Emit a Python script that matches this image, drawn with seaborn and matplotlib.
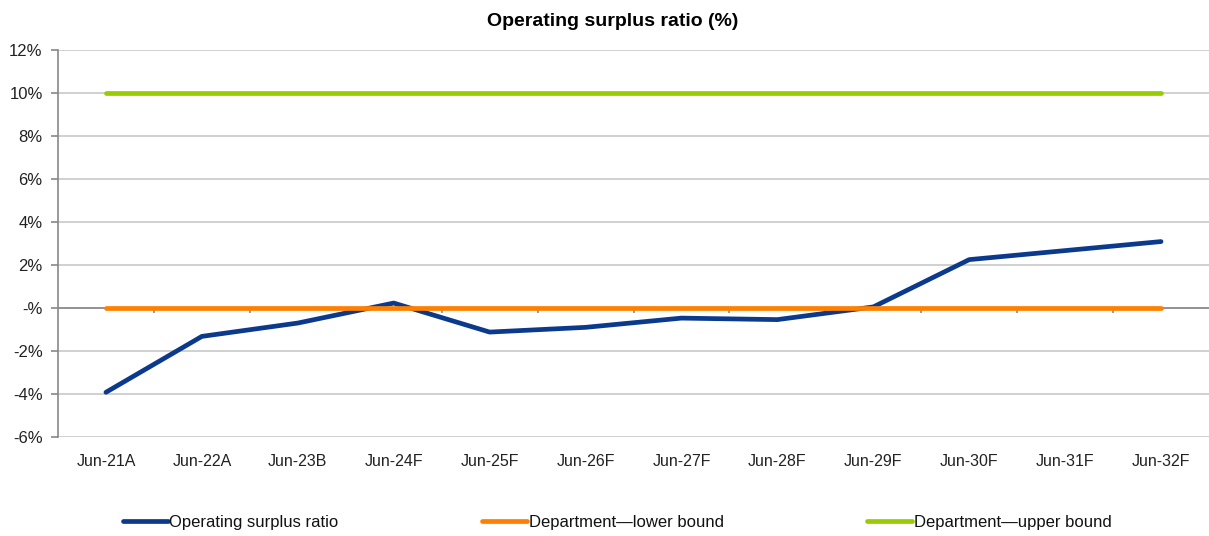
import numpy as np
import pandas as pd
import matplotlib
matplotlib.use("Agg")
import matplotlib.pyplot as plt
import seaborn as sns

# values
periods = ["Jun-21A", "Jun-22A", "Jun-23B", "Jun-24F", "Jun-25F", "Jun-26F",
           "Jun-27F", "Jun-28F", "Jun-29F", "Jun-30F", "Jun-31F", "Jun-32F"]
surplus_ratio = [-3.92, -1.32, -0.70, 0.23, -1.12, -0.90, -0.47, -0.54, 0.05, 2.25, 2.67, 3.09]
lower_bound = [0.0] * 12
upper_bound = [10.0] * 12
series_names = ["Operating surplus ratio", "Department\u2014lower bound", "Department\u2014upper bound"]
colors = ["#0B3A8C", "#FF8000", "#99CC00"]
y_ticks = [-6, -4, -2, 0, 2, 4, 6, 8, 10, 12]

sns.set_style("white")
plt.rcParams["font.family"] = ["Liberation Sans", "DejaVu Sans"]

df = pd.DataFrame({
    "period": periods * 3,
    "x": list(range(len(periods))) * 3,
    "value": surplus_ratio + lower_bound + upper_bound,
    "series": [series_names[0]] * 12 + [series_names[1]] * 12 + [series_names[2]] * 12,
})

fig = plt.figure(figsize=(12.09, 5.36), dpi=100)
ax = fig.add_axes([58 / 1209, 1 - 437 / 536, 1 - 58 / 1209, (437 - 50) / 536])

# grid and zero axis line
for t in y_ticks:
    ax.axhline(t, color="#C8C8C8", lw=1.2, zorder=0)
ax.axhline(0, color="#888888", lw=1.2, zorder=1)
ax.vlines(np.arange(0.5, len(periods) - 1), -0.25, 0, color="#888888", lw=1.2, zorder=1)

sns.lineplot(data=df, x="x", y="value", hue="series", hue_order=series_names,
             palette=colors, lw=3.4, ax=ax, legend=True, zorder=3)
for ln in ax.lines:
    ln.set_solid_capstyle("round")

ax.set_xlim(-0.5, len(periods) - 0.5)
ax.set_ylim(-6, 12)
ax.set_yticks(y_ticks)
ax.set_yticklabels(["-%" if t == 0 else f"{t}%" for t in y_ticks], fontsize=12, color="#222222")
ax.set_xticks(range(len(periods)))
ax.set_xticklabels(periods, fontsize=11.5, color="#222222")
ax.tick_params(axis="x", length=0, pad=12)
ax.tick_params(axis="y", length=5, width=1.2, color="#888888", left=True, pad=6)
ax.set_xlabel("")
ax.set_ylabel("")
for s in ["top", "right", "bottom"]:
    ax.spines[s].set_visible(False)
ax.spines["left"].set_color("#888888")
ax.spines["left"].set_linewidth(1.2)

handles, labels = ax.get_legend_handles_labels()
ax.get_legend().remove()
fig.legend(handles, labels, loc="center", bbox_to_anchor=(617 / 1209, 1 - 522 / 536), ncol=3,
           frameon=False, fontsize=12, handlelength=2.7, handletextpad=0.1,
           columnspacing=8.6, labelcolor="#111111")

fig.text(0.507, 1 - 22 / 536, "Operating surplus ratio (%)", ha="center", va="center",
         fontsize=14, fontweight="bold", color="black")

fig.savefig("out.png", dpi=100)
